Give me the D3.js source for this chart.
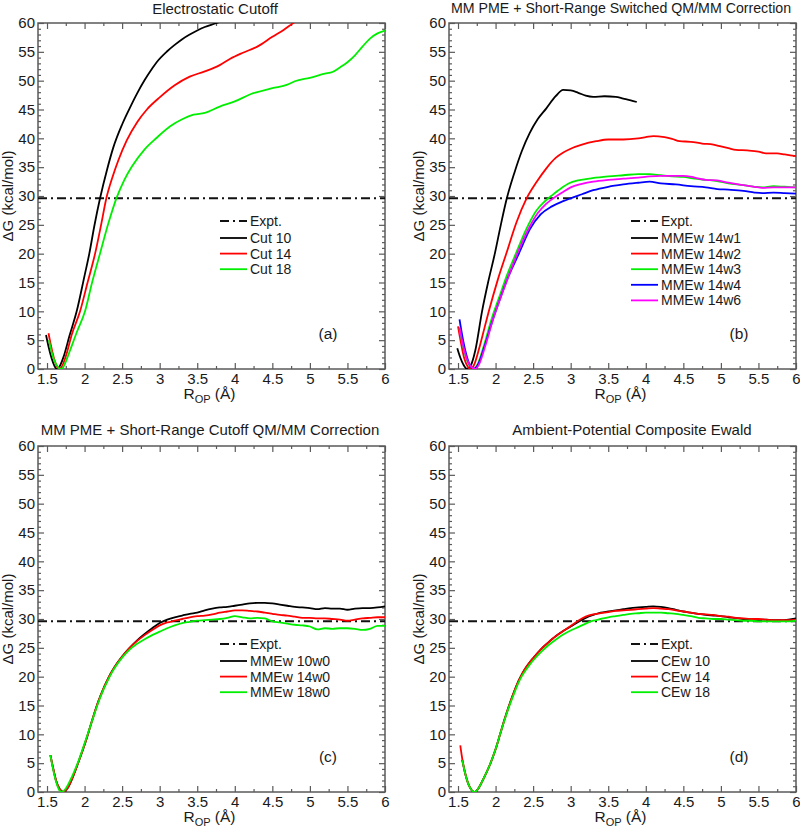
<!DOCTYPE html>
<html><head><meta charset="utf-8">
<script src="https://cdn.jsdelivr.net/npm/d3@7"></script>
<style>
body{margin:0;background:#fff}
text{font-family:"Liberation Sans",Arial,Helvetica,sans-serif;fill:#1a1a1a}
</style>
</head><body>
<svg id="chart" width="800" height="832"></svg>
<script>
// ---------- tick labels ----------
const xTickValues = [1.5,2,2.5,3,3.5,4,4.5,5,5.5,6];
const yTickValues = [0,5,10,15,20,25,30,35,40,45,50,55,60];
const exptValue = 29.6;

// ---------- panel titles ----------
const titles = ["Electrostatic Cutoff",
  "MM PME + Short-Range Switched QM/MM Correction",
  "MM PME + Short-Range Cutoff QM/MM Correction",
  "Ambient-Potential Composite Ewald"];
const panelTags = ["(a)","(b)","(c)","(d)"];

// ---------- panel (a) ----------
const cut10 = [[1.487,5.9],[1.52,3.9],[1.56,1.9],[1.60,0.5],[1.63,0],[1.67,0.5],[1.72,2.1],[1.80,5.8],[1.895,10],[2.0,16.2],[2.063,20],[2.13,24.8],[2.206,29.6],[2.3,34.6],[2.38,38.3],[2.5,42.4],[2.6,45.2],[2.7,47.8],[2.8,50.1],[2.9,52.1],[2.96,53.2],[3.1,55.1],[3.2,56.2],[3.3,57.2],[3.4,58.0],[3.5,58.7],[3.6,59.3],[3.76,60.0],[3.9,60.8]];
const cut14 = [[1.52,6.2],[1.55,4.2],[1.59,2.0],[1.63,0.5],[1.66,0],[1.70,0.5],[1.75,2.2],[1.83,6.0],[1.94,10],[2.04,15],[2.14,20],[2.22,25],[2.29,29.6],[2.37,33.2],[2.45,36.2],[2.56,39.6],[2.7,42.8],[2.83,45.0],[3.0,47.1],[3.2,49.2],[3.4,50.7],[3.6,51.6],[3.8,52.7],[3.94,53.8],[4.1,54.8],[4.3,55.9],[4.5,57.6],[4.65,58.8],[4.78,60],[4.85,60.6]];
const cut18 = [[1.525,5.0],[1.56,3.0],[1.61,1.1],[1.655,0.2],[1.695,0],[1.73,0.7],[1.80,3.0],[1.9,6.5],[2.006,10],[2.1,15],[2.205,20],[2.32,25.4],[2.43,29.8],[2.53,32.8],[2.63,35.1],[2.8,38.1],[2.96,40.1],[3.14,42.1],[3.3,43.3],[3.45,44.1],[3.6,44.4],[3.8,45.5],[4.0,46.4],[4.2,47.6],[4.5,48.7],[4.7,49.3],[4.8,49.9],[5.0,50.5],[5.2,51.2],[5.3,51.5],[5.4,52.3],[5.5,53.2],[5.6,54.4],[5.7,55.9],[5.8,57.3],[5.9,58.2],[6.0,58.7]];

// ---------- panel (b) ----------
const mme14w1 = [[1.49,3.6],[1.53,2.0],[1.57,0.8],[1.62,0],[1.67,0.6],[1.73,3.2],[1.82,10],[1.90,15],[1.99,20],[2.07,25],[2.15,29.6],[2.25,34],[2.35,37.8],[2.454,40.9],[2.56,43.3],[2.676,45.2],[2.8,47.3],[2.9,48.4],[3.0,48.3],[3.1,47.9],[3.2,47.4],[3.3,47.2],[3.45,47.3],[3.6,47.2],[3.7,46.9],[3.8,46.6],[3.88,46.3]];
const mme14w2 = [[1.5,7.4],[1.54,4.5],[1.58,2.0],[1.63,0.4],[1.67,0],[1.71,0.6],[1.78,3.5],[1.85,7.0],[1.91,10],[2.03,15.5],[2.145,20.1],[2.28,25.5],[2.41,29.5],[2.55,32.5],[2.676,34.8],[2.8,36.6],[2.896,37.5],[3.0,38.2],[3.15,38.9],[3.34,39.5],[3.5,39.8],[3.7,39.8],[3.9,40.0],[4.0,40.2],[4.1,40.4],[4.25,40.2],[4.35,39.9],[4.45,39.5],[4.6,39.4],[4.75,39.1],[4.9,38.9],[5.0,38.6],[5.1,38.3],[5.2,38.0],[5.35,37.9],[5.5,37.7],[5.6,37.4],[5.75,37.4],[5.85,37.2],[6.0,36.9]];
const mme14w3 = [[1.52,7.0],[1.57,3.8],[1.62,1.5],[1.67,0.3],[1.71,0],[1.76,0.8],[1.85,4.3],[1.95,8.8],[2.05,12.5],[2.15,16.2],[2.27,20],[2.4,24],[2.54,27.4],[2.65,29.0],[2.76,30.2],[2.87,31.3],[2.98,32.2],[3.1,32.7],[3.29,33.1],[3.5,33.4],[3.7,33.6],[3.9,33.8],[4.05,33.8],[4.2,33.6],[4.35,33.4],[4.5,33.3],[4.65,33.0],[4.8,32.8],[4.95,32.6],[5.1,32.2],[5.3,31.9],[5.45,31.6],[5.55,31.5],[5.7,31.7],[5.85,31.6],[6.0,31.5]];
const mme14w4 = [[1.52,8.6],[1.56,5.5],[1.61,2.5],[1.66,0.6],[1.71,0],[1.76,0.6],[1.85,3.8],[1.95,8.0],[2.05,11.8],[2.17,16],[2.31,20],[2.46,24.3],[2.6,26.8],[2.75,28.2],[2.9,29.1],[3.0,29.6],[3.15,30.3],[3.3,31.0],[3.5,31.6],[3.7,32.0],[3.9,32.3],[4.05,32.5],[4.2,32.2],[4.4,32.0],[4.6,31.7],[4.8,31.5],[4.95,31.2],[5.1,31.1],[5.3,30.9],[5.45,30.6],[5.55,30.5],[5.7,30.6],[5.85,30.5],[6.0,30.4]];
const mme14w6 = [[1.52,7.2],[1.57,4.0],[1.62,1.7],[1.68,0.3],[1.73,0],[1.78,0.8],[1.87,4.3],[1.97,8.8],[2.07,12.5],[2.17,16],[2.29,20],[2.42,23.8],[2.56,27],[2.67,28.6],[2.78,29.7],[2.9,30.7],[3.0,31.5],[3.15,32.1],[3.3,32.5],[3.5,32.8],[3.7,33.0],[3.9,33.2],[4.05,33.4],[4.2,33.5],[4.35,33.5],[4.5,33.5],[4.65,33.2],[4.8,32.8],[4.95,32.7],[5.1,32.3],[5.3,31.9],[5.45,31.6],[5.55,31.4],[5.7,31.5],[5.85,31.5],[6.0,31.5]];

// ---------- panel (c) ----------
const mme10w0 = [[1.545,6.4],[1.58,4.2],[1.62,2.0],[1.67,0.5],[1.72,0],[1.77,0.6],[1.85,2.8],[1.93,5.6],[2.02,9.0],[2.1,12.4],[2.18,15.6],[2.25,17.9],[2.3,19.3],[2.35,20.6],[2.4,21.7],[2.5,23.5],[2.6,25.0],[2.7,26.3],[2.8,27.4],[2.9,28.4],[3.0,29.3],[3.1,29.9],[3.2,30.3],[3.3,30.6],[3.4,30.9],[3.5,31.1],[3.6,31.5],[3.7,31.8],[3.8,32.0],[3.9,32.1],[4.0,32.3],[4.1,32.5],[4.2,32.7],[4.3,32.8],[4.4,32.8],[4.5,32.7],[4.6,32.5],[4.7,32.3],[4.8,32.1],[4.9,32.0],[5.0,31.9],[5.1,31.7],[5.2,31.9],[5.3,31.8],[5.4,31.8],[5.5,31.6],[5.6,31.8],[5.7,31.9],[5.8,31.9],[5.9,32.0],[6.0,32.2]];
const mme14w0 = [[1.545,6.4],[1.58,4.2],[1.62,2.0],[1.67,0.5],[1.72,0],[1.77,0.6],[1.85,2.8],[1.93,5.6],[2.02,9.0],[2.1,12.4],[2.18,15.6],[2.25,17.9],[2.3,19.3],[2.35,20.6],[2.4,21.7],[2.5,23.5],[2.6,25.0],[2.7,26.2],[2.8,27.2],[2.9,28.1],[3.0,28.9],[3.1,29.4],[3.2,29.7],[3.3,30.0],[3.4,30.3],[3.5,30.5],[3.6,30.6],[3.7,30.8],[3.8,31.1],[3.9,31.3],[4.0,31.5],[4.1,31.5],[4.2,31.4],[4.3,31.3],[4.4,31.1],[4.5,30.9],[4.6,30.7],[4.7,30.6],[4.8,30.4],[4.9,30.2],[5.0,30.2],[5.1,30.1],[5.2,30.1],[5.3,30.0],[5.4,29.9],[5.5,29.7],[5.6,29.9],[5.7,30.1],[5.8,30.2],[5.9,30.3],[6.0,30.3]];
const mme18w0 = [[1.545,6.4],[1.58,4.0],[1.62,1.8],[1.66,0.4],[1.70,0],[1.75,0.6],[1.83,2.6],[1.92,5.4],[2.01,8.8],[2.1,12.3],[2.18,15.4],[2.25,17.7],[2.3,19.1],[2.35,20.4],[2.4,21.5],[2.5,23.3],[2.6,24.7],[2.7,25.7],[2.8,26.5],[2.9,27.2],[3.0,27.8],[3.1,28.4],[3.2,28.9],[3.3,29.3],[3.4,29.5],[3.5,29.7],[3.6,29.8],[3.7,29.9],[3.8,30.0],[3.9,30.2],[4.0,30.5],[4.1,30.3],[4.2,30.1],[4.3,30.2],[4.4,30.1],[4.5,29.6],[4.6,29.4],[4.7,29.2],[4.8,29.0],[4.9,28.9],[5.0,28.7],[5.1,28.2],[5.2,28.4],[5.3,28.3],[5.4,28.4],[5.5,28.4],[5.6,28.3],[5.7,28.1],[5.8,28.3],[5.9,28.8],[6.0,28.8]];

// ---------- panel (d) ----------
const cew10 = [[1.555,5.6],[1.6,3.0],[1.65,1.0],[1.72,0],[1.78,0.8],[1.85,2.6],[1.93,4.9],[2.0,7.4],[2.06,10],[2.12,12.6],[2.18,15],[2.25,17.5],[2.3,19.1],[2.35,20.4],[2.4,21.5],[2.45,22.4],[2.5,23.2],[2.6,24.7],[2.7,25.9],[2.8,27.0],[2.9,27.9],[3.0,28.7],[3.1,29.5],[3.2,30.2],[3.3,30.7],[3.4,31.1],[3.5,31.3],[3.6,31.5],[3.7,31.7],[3.8,31.9],[3.9,32.0],[4.0,32.1],[4.1,32.2],[4.2,32.1],[4.3,31.9],[4.4,31.6],[4.5,31.3],[4.6,31.1],[4.7,30.9],[4.8,30.7],[4.9,30.6],[5.0,30.5],[5.1,30.3],[5.2,30.2],[5.3,30.0],[5.4,30.0],[5.5,29.9],[5.6,29.9],[5.7,29.8],[5.8,29.8],[5.9,29.9],[6.0,30.1]];
const cew14 = [[1.53,8.1],[1.56,5.5],[1.6,3.0],[1.65,1.0],[1.72,0],[1.78,0.8],[1.85,2.6],[1.93,4.9],[2.0,7.4],[2.06,10],[2.12,12.6],[2.18,15],[2.25,17.5],[2.3,19.1],[2.35,20.4],[2.4,21.5],[2.45,22.4],[2.5,23.2],[2.6,24.7],[2.7,25.9],[2.8,27.0],[2.9,27.9],[3.0,28.8],[3.1,29.7],[3.2,30.4],[3.3,30.8],[3.4,31.0],[3.5,31.2],[3.6,31.4],[3.7,31.5],[3.8,31.6],[3.9,31.7],[4.0,31.8],[4.1,31.9],[4.2,31.8],[4.3,31.7],[4.4,31.5],[4.5,31.3],[4.6,31.1],[4.7,30.9],[4.8,30.8],[4.9,30.7],[5.0,30.5],[5.1,30.4],[5.2,30.2],[5.3,30.1],[5.4,30.0],[5.5,30.0],[5.6,29.9],[5.7,29.8],[5.8,29.8],[5.9,29.8],[6.0,29.9]];
const cew18 = [[1.557,5.5],[1.6,3.0],[1.65,1.0],[1.72,0],[1.78,0.8],[1.85,2.6],[1.93,4.9],[2.0,7.4],[2.06,10],[2.12,12.5],[2.18,14.8],[2.25,17.2],[2.3,18.8],[2.35,20.1],[2.4,21.1],[2.45,22.0],[2.5,22.8],[2.6,24.2],[2.7,25.4],[2.8,26.4],[2.9,27.3],[3.0,28.0],[3.1,28.6],[3.2,29.2],[3.3,29.7],[3.4,30.0],[3.5,30.3],[3.6,30.5],[3.7,30.7],[3.8,30.9],[3.9,31.0],[4.0,31.1],[4.1,31.1],[4.2,31.1],[4.3,31.0],[4.4,30.9],[4.5,30.7],[4.6,30.5],[4.7,30.2],[4.8,30.1],[4.9,30.0],[5.0,30.0],[5.1,29.9],[5.2,29.8],[5.3,29.7],[5.4,29.7],[5.5,29.6],[5.6,29.6],[5.7,29.6],[5.8,29.6],[5.9,29.6],[6.0,29.7]];

// ---------- series names / colours ----------
const legendA = ["Cut 10","Cut 14","Cut 18"];
const legendB = ["MMEw 14w1","MMEw 14w2","MMEw 14w3","MMEw 14w4","MMEw 14w6"];
const legendC = ["MMEw 10w0","MMEw 14w0","MMEw 18w0"];
const legendD = ["CEw 10","CEw 14","CEw 18"];
const colorsA = ["#000000","#ff0000","#00ee00"];
const colorsB = ["#000000","#ff0000","#00ee00","#0000ff","#ff00ff"];
const colorsC = colorsA, colorsD = colorsA;

const panels = [
  {title:titles[0], tag:panelTags[0], left:38,  top:23,  titleX:177, titleY:-9,  titleSize:15,   series:[cut10,cut14,cut18], names:legendA, colors:colorsA},
  {title:titles[1], tag:panelTags[1], left:449, top:23,  titleX:172, titleY:-10, titleSize:14.2, series:[mme14w1,mme14w2,mme14w3,mme14w4,mme14w6], names:legendB, colors:colorsB},
  {title:titles[2], tag:panelTags[2], left:38,  top:446, titleX:172, titleY:-11, titleSize:15,   series:[mme10w0,mme14w0,mme18w0], names:legendC, colors:colorsC},
  {title:titles[3], tag:panelTags[3], left:449, top:446, titleX:183, titleY:-11, titleSize:15,   series:[cew10,cew14,cew18], names:legendD, colors:colorsD}
];

const W = 347, H = 346;
const xDomain = [1.38, 6];
const frameColor = "#5a5a5a";
const exptDash = "9,4,2,4";

const svg = d3.select("#chart");

panels.forEach((p, pi) => {
  const g = svg.append("g").attr("transform", `translate(${p.left},${p.top})`);
  const x = d3.scaleLinear().domain(xDomain).range([0, W]);
  const y = d3.scaleLinear().domain([0, 60]).range([H, 0]);

  g.append("clipPath").attr("id", "clip" + pi)
    .append("rect").attr("width", W).attr("height", H);

  const xMinor = d3.range(1.75, 6, 0.5);
  const yMinor = d3.range(0, 61, 1).filter(v => v % 5 !== 0);

  function styleAxis(sel) {
    sel.select(".domain").remove();
    sel.selectAll("line").attr("stroke", frameColor).attr("stroke-width", 1.2);
    sel.selectAll("text").attr("font-size", 15).attr("fill", "#1a1a1a")
      .attr("font-family", '"Liberation Sans",Arial,sans-serif');
  }

  g.append("g").attr("transform", `translate(0,${H})`)
    .call(d3.axisBottom(x).tickValues(xTickValues).tickSize(-6).tickPadding(4).tickFormat(d => String(d)))
    .call(styleAxis);
  g.append("g").attr("transform", `translate(0,${H})`)
    .call(d3.axisBottom(x).tickValues(xMinor).tickSize(-3).tickFormat(""))
    .call(styleAxis);
  g.append("g")
    .call(d3.axisTop(x).tickValues(xTickValues).tickSize(-6).tickFormat(""))
    .call(styleAxis);
  g.append("g")
    .call(d3.axisTop(x).tickValues(xMinor).tickSize(-3).tickFormat(""))
    .call(styleAxis);
  g.append("g")
    .call(d3.axisLeft(y).tickValues(yTickValues).tickSize(-6).tickPadding(3).tickFormat(d => String(d)))
    .call(styleAxis);
  g.append("g")
    .call(d3.axisLeft(y).tickValues(yMinor).tickSize(-3).tickFormat(""))
    .call(styleAxis);
  g.append("g").attr("transform", `translate(${W},0)`)
    .call(d3.axisRight(y).tickValues(yTickValues).tickSize(-6).tickFormat(""))
    .call(styleAxis);
  g.append("g").attr("transform", `translate(${W},0)`)
    .call(d3.axisRight(y).tickValues(yMinor).tickSize(-3).tickFormat(""))
    .call(styleAxis);

  g.append("rect").attr("width", W).attr("height", H)
    .attr("fill", "none").attr("stroke", frameColor).attr("stroke-width", 1.5);

  const plot = g.append("g").attr("clip-path", `url(#clip${pi})`);

  plot.append("line")
    .attr("x1", x(xDomain[0])).attr("x2", x(xDomain[1]))
    .attr("y1", y(exptValue)).attr("y2", y(exptValue))
    .attr("stroke", "#111").attr("stroke-width", 2)
    .attr("stroke-dasharray", exptDash);

  const line = d3.line().x(d => x(d[0])).y(d => y(d[1])).curve(d3.curveMonotoneX);
  p.series.forEach((s, si) => {
    plot.append("path").datum(s)
      .attr("d", line)
      .attr("fill", "none")
      .attr("stroke", p.colors[si])
      .attr("stroke-width", 1.8)
      .attr("stroke-linejoin", "round");
  });

  g.append("text").attr("x", p.titleX).attr("y", p.titleY)
    .attr("text-anchor", "middle").attr("font-size", p.titleSize).text(p.title);

  g.append("text")
    .attr("transform", `translate(${-25},${H / 2}) rotate(-90)`)
    .attr("text-anchor", "middle").attr("font-size", 15)
    .text("\u0394G (kcal/mol)");

  const xt = g.append("text").attr("x", W / 2 - 2).attr("y", H + 30)
    .attr("text-anchor", "middle").attr("font-size", 15.5);
  xt.append("tspan").text("R");
  xt.append("tspan").attr("font-size", 11).attr("dy", 4).text("OP");
  xt.append("tspan").attr("dy", -4).text(" (\u00c5)");

  g.append("text").attr("x", 290).attr("y", 316)
    .attr("text-anchor", "middle").attr("font-size", 15.5).text(p.tag);

  const lg = g.append("g");
  const rows = [{name: "Expt.", color: "#111", dash: exptDash}]
    .concat(p.names.map((n, i) => ({name: n, color: p.colors[i], dash: null})));
  rows.forEach((r, i) => {
    const yy = i === 0 ? 198 : 215 + (i - 1) * 15.6;
    lg.append("line").attr("x1", 182).attr("x2", 209).attr("y1", yy).attr("y2", yy)
      .attr("stroke", r.color).attr("stroke-width", i === 0 ? 2 : 1.8)
      .attr("stroke-dasharray", r.dash);
    lg.append("text").attr("x", 212).attr("y", yy + 5)
      .attr("font-size", 14).text(r.name);
  });
});
</script>
</body></html>
